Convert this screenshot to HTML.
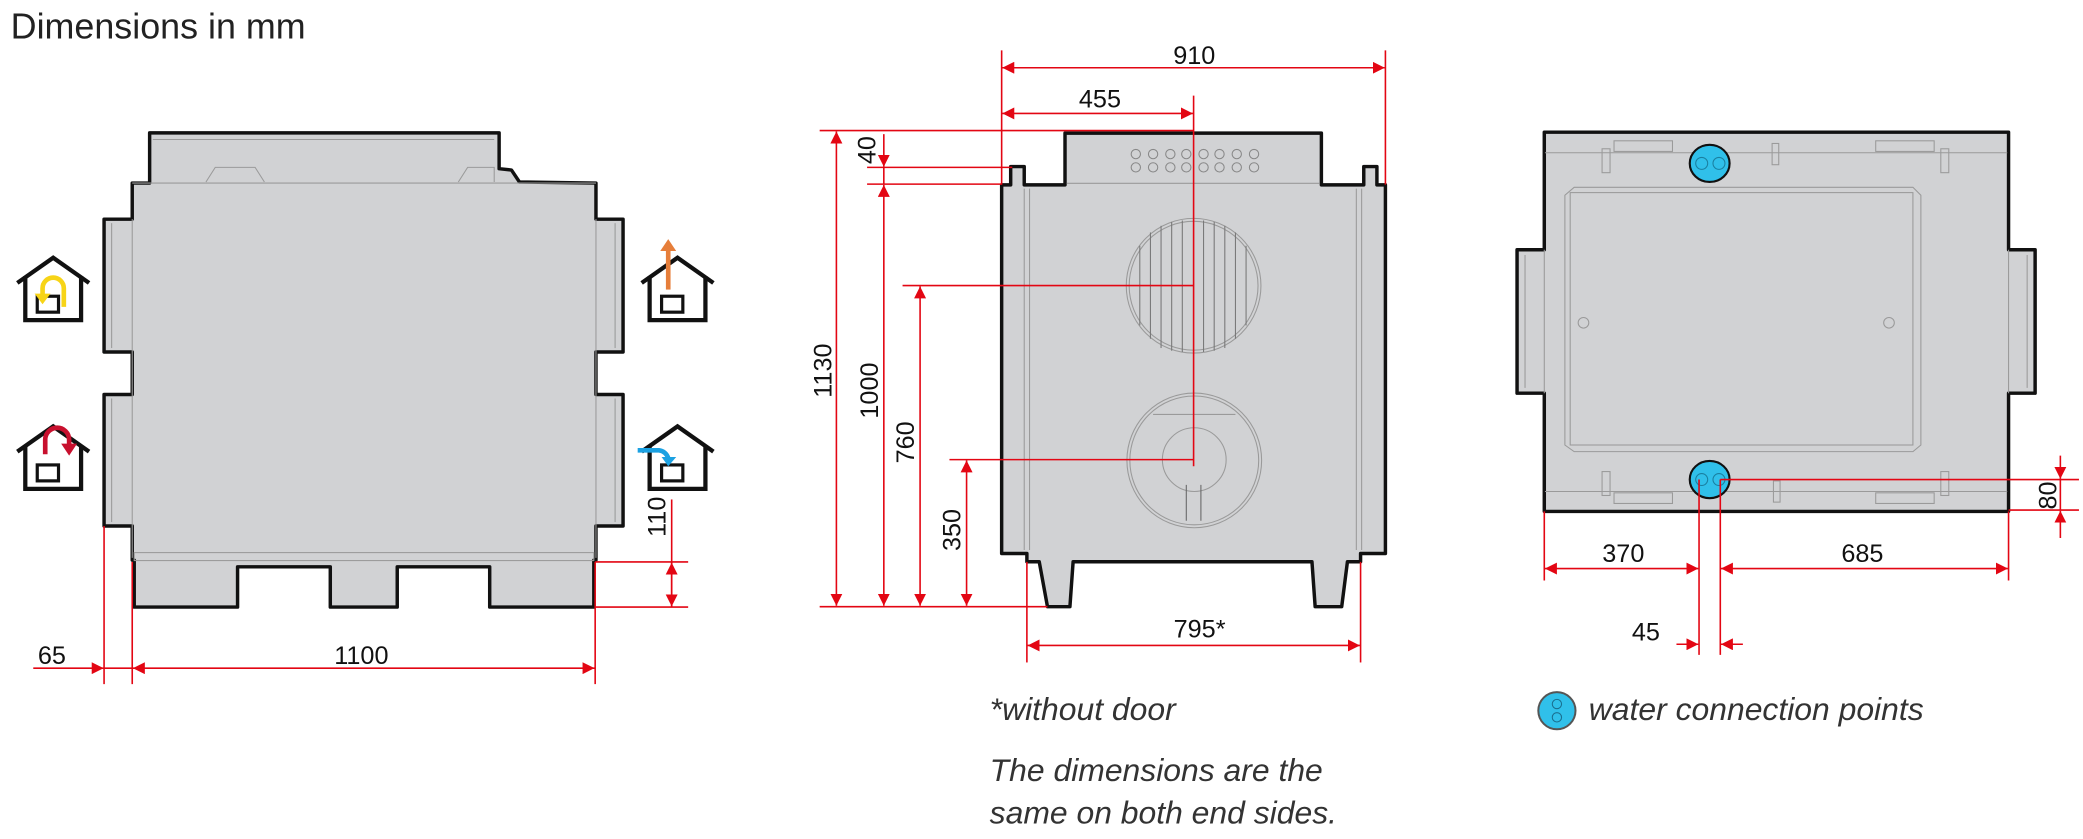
<!DOCTYPE html>
<html><head><meta charset="utf-8"><style>
html,body{margin:0;padding:0;background:#fff;}
svg{display:block;}
text{font-family:"Liberation Sans",sans-serif;}
</style></head><body>
<svg width="2083" height="839" viewBox="0 0 1568 631.6" xmlns="http://www.w3.org/2000/svg">
<defs>
<marker id="a" viewBox="0 0 10 10" refX="10" refY="5" markerWidth="9" markerHeight="9" markerUnits="userSpaceOnUse" orient="auto-start-reverse"><path d="M0,0 L10,5 L0,10 z" fill="#e30613"/></marker>
<g id="house" fill="none" stroke="#111" stroke-width="3.2">
<path d="M-27,19 L0,0 L27,19"/>
<path d="M-21,14 V47 H21 V14"/>
<rect x="-12" y="29" width="16" height="12" stroke-width="2.4"/>
</g>
</defs>
<text x="8" y="29" font-size="27" fill="#222">Dimensions in mm</text>

<!-- LEFT VIEW -->
<g stroke="#111" stroke-width="2.6" fill="#d1d2d4" stroke-linejoin="round">
<path d="M112.6,100 H375.7 V127 L385,128 L391,137 L448.6,137.8 V165 H469 V265 H448.6 V297 H469 V396 H448.6 V421.7 H447 V457 H368.6 V426.7 H299 V457 H248.6 V426.7 H178.8 V457 H101 V421.7 H99.5 V396 H78.3 V297 H99.5 V265 H78.3 V165 H99.5 V137.8 H112.6 Z"/>
</g>
<g stroke="#9a9a9a" stroke-width="0.8" fill="none">
<line x1="99.5" y1="137.8" x2="448.6" y2="137.8"/>
<line x1="99.5" y1="165" x2="99.5" y2="420"/>
<line x1="448.6" y1="165" x2="448.6" y2="420"/>
<line x1="84" y1="168" x2="84" y2="262"/><line x1="84" y1="300" x2="84" y2="393"/>
<line x1="463" y1="168" x2="463" y2="262"/><line x1="463" y1="300" x2="463" y2="393"/>
<rect x="101" y="416" width="346" height="6"/>
<line x1="115" y1="105" x2="372" y2="105"/>
<path d="M155,137 L162,126 H192 L199,137"/><path d="M345,137 L352,126 H372 V137"/>
</g>
<use href="#house" x="40" y="194"/>
<use href="#house" x="40" y="321"/>
<use href="#house" x="510" y="194"/>
<use href="#house" x="510" y="321"/>
<g fill="none" stroke-width="3.5">
<path d="M48,231 V217 A8,8 0 0 0 32,217 V222" stroke="#f7d417"/>
<path d="M34,342 V331 A9,9 0 0 1 52,331 V336" stroke="#c8102e"/>
<path d="M503,218 V188" stroke="#e67e3a"/>
<path d="M480,339 H496 A8,8 0 0 1 503,345" stroke="#1ba1e2"/>
</g>
<path d="M26,221 H38 L32,229 Z" fill="#f7d417"/>
<path d="M46,334 H58 L52,343 Z" fill="#c8102e"/>
<path d="M497,189 L503,180 L509,189 Z" fill="#e67e3a"/>
<path d="M498,344 H509 L503,351 Z" fill="#1ba1e2"/>

<g stroke="#e30613" stroke-width="1.2" fill="none">
<line x1="78.3" y1="396" x2="78.3" y2="515"/>
<line x1="99.5" y1="423" x2="99.5" y2="515"/>
<line x1="448" y1="423" x2="448" y2="515"/>
<line x1="25" y1="503" x2="78" y2="503" marker-end="url(#a)"/>
<line x1="78.3" y1="503" x2="99.5" y2="503"/>
<line x1="100" y1="503" x2="447.5" y2="503" marker-start="url(#a)" marker-end="url(#a)"/>
<line x1="448" y1="423" x2="518" y2="423"/>
<line x1="448" y1="457" x2="518" y2="457"/>
<line x1="505.6" y1="376" x2="505.6" y2="457" />
<line x1="505.6" y1="440" x2="505.6" y2="423.5" marker-end="url(#a)"/>
<line x1="505.6" y1="440" x2="505.6" y2="456.5" marker-end="url(#a)"/>
</g>
<g font-size="19" fill="#111">
<text x="39" y="500" text-anchor="middle">65</text>
<text x="272" y="500" text-anchor="middle">1100</text>
<text transform="translate(501,389) rotate(-90)" text-anchor="middle">110</text>
</g>

<!-- MIDDLE VIEW -->
<g stroke="#111" stroke-width="2.6" fill="#d1d2d4" stroke-linejoin="round">
<path d="M801.7,100.2 H994.7 V139.2 H1026.6 V125.4 H1036.5 V139.2 H1042.9 V416.7 H1024.2 V422.9 H1014.3 L1010,456.7 H990 L987.6,422.9 H807.8 L805.4,456.7 H788.5 L782.3,422.9 H773 V416.7 H754 V139.2 H760.8 V125.4 H771 V139.2 H801.7 Z"/>
</g>
<g stroke="#9a9a9a" stroke-width="0.8" fill="none">
<line x1="771" y1="142" x2="771" y2="414"/><line x1="775" y1="142" x2="775" y2="414"/>
<line x1="1025" y1="142" x2="1025" y2="414"/><line x1="1021" y1="142" x2="1021" y2="414"/>
<line x1="803" y1="138" x2="993" y2="138"/>
<circle cx="898.5" cy="215.1" r="50.7"/><circle cx="898.5" cy="215.1" r="48.5"/>
<circle cx="899" cy="346.6" r="50.7"/><circle cx="899" cy="346.6" r="48.5"/>
<circle cx="899" cy="346" r="24"/>
<line x1="868" y1="312" x2="930" y2="312"/>
<g stroke="#777">
<line x1="858" y1="185" x2="858" y2="245"/><line x1="866" y1="175" x2="866" y2="255"/><line x1="874" y1="170" x2="874" y2="262"/><line x1="882" y1="167" x2="882" y2="264"/><line x1="890" y1="166" x2="890" y2="265"/><line x1="906" y1="166" x2="906" y2="265"/><line x1="914" y1="167" x2="914" y2="264"/><line x1="922" y1="170" x2="922" y2="262"/><line x1="930" y1="175" x2="930" y2="255"/><line x1="938" y1="185" x2="938" y2="245"/>
</g>
<g stroke="#888"><circle cx="855" cy="116" r="3.5"/><circle cx="868" cy="116" r="3.5"/><circle cx="881" cy="116" r="3.5"/><circle cx="893" cy="116" r="3.5"/><circle cx="906" cy="116" r="3.5"/><circle cx="918" cy="116" r="3.5"/><circle cx="931" cy="116" r="3.5"/><circle cx="944" cy="116" r="3.5"/>
<circle cx="855" cy="126" r="3.5"/><circle cx="868" cy="126" r="3.5"/><circle cx="881" cy="126" r="3.5"/><circle cx="893" cy="126" r="3.5"/><circle cx="906" cy="126" r="3.5"/><circle cx="918" cy="126" r="3.5"/><circle cx="931" cy="126" r="3.5"/><circle cx="944" cy="126" r="3.5"/></g>
<path d="M893,365 V392 M904,365 V392" stroke="#666"/>
</g>
<g stroke="#e30613" stroke-width="1.2" fill="none">
<line x1="754" y1="37.9" x2="754" y2="139"/>
<line x1="1042.9" y1="37.9" x2="1042.9" y2="139"/>
<line x1="754.5" y1="51" x2="1042.4" y2="51" marker-start="url(#a)" marker-end="url(#a)"/>
<line x1="754.5" y1="85.4" x2="898" y2="85.4" marker-start="url(#a)" marker-end="url(#a)"/>
<line x1="898.5" y1="72" x2="898.5" y2="351"/>
<line x1="617" y1="98.3" x2="898.5" y2="98.3"/>
<line x1="652.7" y1="126" x2="762" y2="126"/>
<line x1="652.7" y1="138.6" x2="754" y2="138.6"/>
<line x1="679.4" y1="215" x2="898.5" y2="215"/>
<line x1="714.7" y1="346" x2="898.5" y2="346"/>
<line x1="617" y1="456.7" x2="788.5" y2="456.7"/>
<line x1="629.6" y1="99" x2="629.6" y2="456" marker-start="url(#a)" marker-end="url(#a)"/>
<line x1="665.3" y1="101" x2="665.3" y2="125.5" marker-end="url(#a)"/>
<line x1="665.3" y1="126" x2="665.3" y2="138.6"/>
<line x1="665.3" y1="139.2" x2="665.3" y2="456" marker-start="url(#a)" marker-end="url(#a)"/>
<line x1="692.6" y1="215.6" x2="692.6" y2="456" marker-start="url(#a)" marker-end="url(#a)"/>
<line x1="727.6" y1="346.6" x2="727.6" y2="456" marker-start="url(#a)" marker-end="url(#a)"/>
<line x1="773" y1="423" x2="773" y2="498.7"/>
<line x1="1024.2" y1="423" x2="1024.2" y2="498.7"/>
<line x1="773.5" y1="485.9" x2="1023.7" y2="485.9" marker-start="url(#a)" marker-end="url(#a)"/>
</g>
<g font-size="19" fill="#111">
<text x="899" y="48" text-anchor="middle">910</text>
<text x="828" y="81" text-anchor="middle">455</text>
<text x="903" y="480" text-anchor="middle">795*</text>
<text transform="translate(626,279) rotate(-90)" text-anchor="middle">1130</text>
<text transform="translate(661,294) rotate(-90)" text-anchor="middle">1000</text>
<text transform="translate(688,333) rotate(-90)" text-anchor="middle">760</text>
<text transform="translate(723,399) rotate(-90)" text-anchor="middle">350</text>
<text transform="translate(659,113) rotate(-90)" text-anchor="middle">40</text>
</g>
<g font-size="24" fill="#333" font-style="italic">
<text x="745" y="542">*without door</text>
<text x="745" y="588">The dimensions are the</text>
<text x="745" y="620">same on both end sides.</text>
</g>

<!-- RIGHT VIEW -->
<g stroke="#111" stroke-width="2.6" fill="#d1d2d4" stroke-linejoin="round">
<path d="M1162.5,99.5 H1512 V188 H1532 V296 H1512 V385 H1162.5 V296 H1142 V188 H1162.5 Z"/>
</g>
<g stroke="#9a9a9a" stroke-width="0.8" fill="none">
<line x1="1163" y1="115" x2="1511" y2="115"/>
<line x1="1163" y1="370" x2="1511" y2="370"/>
<path d="M1185,141 H1440 L1446,147 V335 L1440,340 H1185 L1178,335 V147 Z"/>
<rect x="1182" y="145" width="258" height="190"/>
<line x1="1162.5" y1="188" x2="1162.5" y2="296"/><line x1="1512" y1="188" x2="1512" y2="296"/>
<line x1="1148" y1="192" x2="1148" y2="292"/><line x1="1526" y1="192" x2="1526" y2="292"/>
<rect x="1215" y="106" width="44" height="8"/><rect x="1412" y="106" width="44" height="8"/>
<rect x="1215" y="371" width="44" height="8"/><rect x="1412" y="371" width="44" height="8"/>
<circle cx="1192" cy="243" r="4"/><circle cx="1422" cy="243" r="4"/>
<rect x="1206" y="112" width="6" height="18"/><rect x="1461" y="112" width="6" height="18"/>
<rect x="1206" y="355" width="6" height="18"/><rect x="1461" y="355" width="6" height="18"/>
<rect x="1334" y="108" width="5" height="16"/><rect x="1335" y="362" width="5" height="16"/>
</g>
<g stroke="#111" stroke-width="1.6" fill="#30c0ea">
<ellipse cx="1287" cy="123" rx="15" ry="14"/>
<ellipse cx="1287" cy="361" rx="15" ry="14"/>
</g>
<g stroke="#1a7fa0" stroke-width="0.8" fill="none">
<circle cx="1281" cy="123" r="4.5"/><circle cx="1294" cy="123" r="4.5"/>
<circle cx="1281" cy="361" r="4.5"/><circle cx="1294" cy="361" r="4.5"/>
</g>
<g stroke="#e30613" stroke-width="1.2" fill="none">
<line x1="1162.5" y1="385" x2="1162.5" y2="437"/>
<line x1="1512" y1="385" x2="1512" y2="437"/>
<line x1="1279" y1="361" x2="1279" y2="493"/>
<line x1="1295" y1="361" x2="1295" y2="493"/>
<line x1="1163" y1="428" x2="1278.5" y2="428" marker-start="url(#a)" marker-end="url(#a)"/>
<line x1="1295.5" y1="428" x2="1511.5" y2="428" marker-start="url(#a)" marker-end="url(#a)"/>
<line x1="1262" y1="485" x2="1278.5" y2="485" marker-end="url(#a)"/>
<line x1="1312" y1="485" x2="1295.5" y2="485" marker-end="url(#a)"/>
<line x1="1295" y1="361" x2="1565" y2="361"/>
<line x1="1512" y1="384" x2="1565" y2="384"/>
<line x1="1551" y1="343" x2="1551" y2="360.5" marker-end="url(#a)"/>
<line x1="1551" y1="405" x2="1551" y2="384.5" marker-end="url(#a)"/>
<line x1="1551" y1="361" x2="1551" y2="384"/>
</g>
<g font-size="19" fill="#111">
<text x="1222" y="423" text-anchor="middle">370</text>
<text x="1402" y="423" text-anchor="middle">685</text>
<text x="1239" y="482" text-anchor="middle">45</text>
<text transform="translate(1548,373) rotate(-90)" text-anchor="middle">80</text>
</g>
<circle cx="1172" cy="535" r="14" fill="#30c0ea" stroke="#555" stroke-width="1.5"/>
<circle cx="1172" cy="530" r="3.5" fill="none" stroke="#1a6f90" stroke-width="0.8"/>
<circle cx="1172" cy="540" r="3.5" fill="none" stroke="#1a6f90" stroke-width="0.8"/>
<text x="1196" y="542" font-size="24" fill="#333" font-style="italic">water connection points</text>
</svg>
</body></html>
